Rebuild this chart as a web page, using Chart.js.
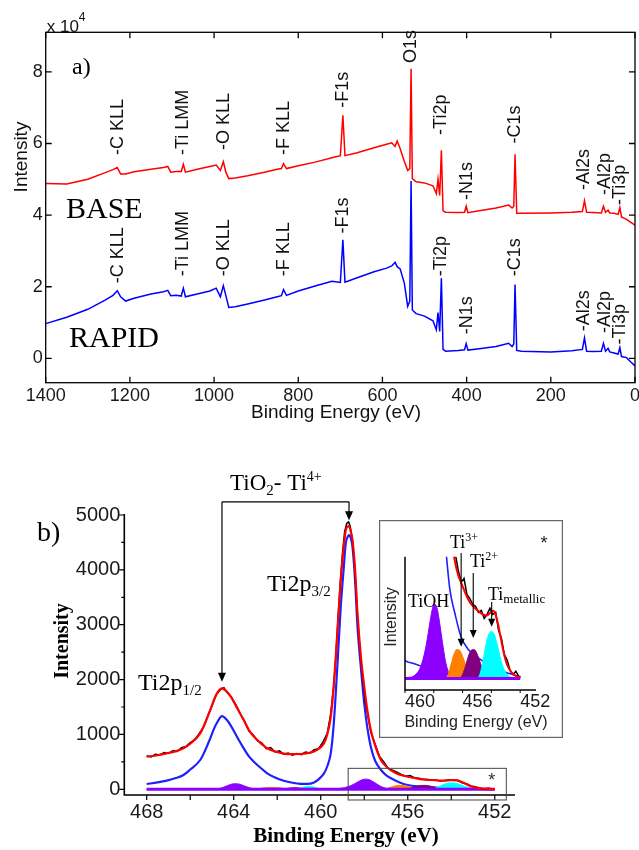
<!DOCTYPE html>
<html>
<head>
<meta charset="utf-8">
<script src="https://cdn.jsdelivr.net/npm/chart.js@4.4.1/dist/chart.umd.min.js"></script>
<style>
	html, body { margin: 0; padding: 0; background: #fff; }
	#wrap { position: relative; width: 639px; height: 850px; overflow: hidden; }
	canvas { position: absolute; }
	#survey { left: 0; top: 0; }
	#ti2p { left: 0; top: 430px; }
	#inset { left: 379px; top: 520px; }
</style>
</head>
<body>
<div id="wrap">
	<canvas id="survey" width="639" height="430"></canvas>
	<canvas id="ti2p" width="639" height="420"></canvas>
	<canvas id="inset" width="184" height="218"></canvas>
</div>
<script>
// a) survey spectra, intensity in units of 10^4
var surveyEnergy = [1400, 1350, 1300, 1260, 1240, 1230, 1222, 1210, 1190, 1150, 1120, 1110, 1103, 1090, 1078, 1073, 1068, 1040, 1010, 995,
	985, 978, 972, 965, 950, 920, 880, 850, 840, 835, 828, 800, 760, 720, 700, 694, 689, 660, 620, 590,
	578, 570, 565, 558, 548, 540, 535, 532, 529, 520, 500, 480, 472, 468, 464, 460, 456, 450, 420, 405,
	401, 397, 370, 330, 300, 292, 288, 285, 281, 270, 200, 150, 125, 120, 115, 100, 80, 75, 70, 64,
	60, 50, 40, 36, 32, 20, 10, 0];
var baseCounts = [4.88, 4.87, 5.00, 5.18, 5.27, 5.33, 5.15, 5.15, 5.21, 5.28, 5.33, 5.36, 5.20, 5.22, 5.22, 5.42, 5.20, 5.28, 5.36, 5.40,
	5.25, 5.49, 5.20, 5.02, 5.04, 5.10, 5.20, 5.28, 5.30, 5.44, 5.30, 5.38, 5.48, 5.60, 5.66, 6.79, 5.66, 5.74, 5.88, 5.98,
	6.02, 5.92, 6.07, 5.86, 5.50, 5.25, 5.30, 8.09, 5.02, 4.93, 4.90, 4.82, 4.60, 5.00, 4.55, 5.81, 4.12, 4.08, 4.07, 4.08,
	4.25, 4.07, 4.12, 4.20, 4.28, 4.20, 4.25, 5.70, 4.05, 4.05, 4.06, 4.08, 4.10, 4.40, 4.08, 4.07, 4.06, 4.25, 4.08, 4.14,
	4.06, 4.05, 4.02, 4.21, 3.95, 3.88, 3.80, 3.72];
var rapidCounts = [0.97, 1.15, 1.37, 1.62, 1.76, 1.89, 1.72, 1.60, 1.68, 1.80, 1.86, 1.90, 1.75, 1.76, 1.74, 1.96, 1.72, 1.80, 1.88, 1.96,
	1.72, 2.03, 1.75, 1.42, 1.44, 1.52, 1.63, 1.72, 1.75, 1.92, 1.76, 1.88, 2.02, 2.15, 2.12, 3.31, 2.13, 2.25, 2.42, 2.52,
	2.58, 2.68, 2.56, 2.50, 2.10, 1.45, 1.60, 4.95, 1.35, 1.25, 1.18, 1.05, 0.80, 1.28, 0.75, 2.24, 0.25, 0.20, 0.22, 0.24,
	0.41, 0.23, 0.27, 0.33, 0.42, 0.33, 0.40, 2.06, 0.22, 0.20, 0.18, 0.21, 0.25, 0.57, 0.20, 0.19, 0.20, 0.42, 0.20, 0.28,
	0.18, 0.15, 0.12, 0.30, 0.05, 0.02, -0.10, -0.21];
var surveyXTicks = [0, 200, 400, 600, 800, 1000, 1200, 1400];
var surveyYTicks = [0, 2, 4, 6, 8];

// peak labels: energy and where the label starts (same units as the curves)
var peakNames = ['-C KLL', '-Ti LMM', '-O KLL', '-F KLL', '-F1s', 'O1s', '-Ti2p', '-N1s', '-C1s', '-Al2s', '-Al2p', '-Ti3p'];
var peakEnergy = [1228, 1073, 976, 834, 694, 532, 461, 400, 285, 121, 72, 36];
var baseLabelAt = [5.68, 5.68, 5.82, 5.68, 7.0, 8.25, 6.24, 4.42, 6.0, 4.70, 4.56, 4.28];
var rapidLabelAt = [2.10, 2.29, 2.29, 2.29, 3.49, null, 2.29, 0.67, 2.29, 0.76, 0.71, 0.39];

// b) Ti2p high resolution, counts
var fitEnergy = [468.0, 467.5, 467.08, 466.7, 466.31, 466.0, 465.54, 465.3, 465.08, 464.9, 464.77, 464.54, 464.31, 464.15, 464.0, 463.8,
	463.54, 463.3, 463.0, 462.7, 462.46, 462.1, 461.7, 461.3, 460.93, 460.6, 460.31, 460.05, 459.85, 459.7, 459.54, 459.42, 459.31,
	459.2, 459.08, 458.95, 458.85, 458.75, 458.7, 458.62, 458.54, 458.42, 458.31, 458.15, 458.0, 457.85, 457.7, 457.5, 457.23, 457.0,
	456.77, 456.4, 456.0, 455.5, 454.93, 454.6, 454.31, 454.05, 453.85, 453.6, 453.39, 453.15, 452.93, 452.6, 452.3, 452.0];
var fitCounts = [594, 620, 656, 690, 747, 830, 1020, 1220, 1444, 1640, 1749, 1840, 1778, 1700, 1596, 1450,
	1262, 1080, 929, 820, 747, 690, 650, 640, 643, 660, 690, 750, 840, 1000, 1322, 1800, 2415,
	3100, 3812, 4400, 4723, 4790, 4796, 4700, 4541, 4000, 3206, 2400, 1869, 1420, 1080, 800, 530, 420,
	345, 270, 230, 190, 169, 160, 157, 165, 169, 145, 109, 65, 36, 15, 6, 2];
var ti4Counts = [96, 125, 157, 200, 260, 360, 534, 720, 929, 1110, 1213, 1335, 1262, 1170, 1067, 920,
	747, 600, 474, 370, 291, 215, 157, 120, 100, 98, 125, 200, 291, 420, 656, 1100, 1749,
	2500, 3326, 4000, 4481, 4610, 4632, 4580, 4419, 3800, 2962, 2200, 1566, 1100, 776, 520, 352, 260,
	200, 130, 78, 50, 35, 28, 22, 18, 16, 13, 10, 8, 7, 5, 4, 3];

var dataEnergy = [468.0, 467.8, 467.6, 467.4, 467.2, 467.0, 466.8, 466.6, 466.4, 466.2, 466.0, 465.8, 465.6, 465.4, 465.2, 465.0,
	464.8, 464.6, 464.45, 464.3, 464.1, 463.9, 463.7, 463.5, 463.3, 463.1, 462.9, 462.7, 462.5, 462.3, 462.1,
	461.9, 461.7, 461.5, 461.3, 461.1, 460.9, 460.7, 460.5, 460.3, 460.1, 459.9, 459.7, 459.55, 459.4, 459.3, 459.2, 459.1, 459.0,
	458.9, 458.8, 458.72, 458.65, 458.55, 458.45, 458.35, 458.25, 458.15, 458.05, 457.95, 457.85, 457.7, 457.5, 457.3, 457.1,
	456.9, 456.7, 456.5, 456.3, 456.1, 455.9, 455.7, 455.5, 455.3, 455.1, 454.9, 454.7, 454.5, 454.3, 454.1,
	453.9, 453.7, 453.5, 453.3, 453.1, 452.9, 452.7, 452.5, 452.3, 452.1];
var dataCounts = [610, 590, 640, 625, 670, 655, 700, 690, 760, 780, 850, 900, 1010, 1130, 1330, 1520,
	1730, 1820, 1850, 1760, 1680, 1540, 1380, 1240, 1060, 990, 880, 840, 740, 760, 680,
	700, 640, 660, 620, 650, 630, 680, 660, 720, 740, 860, 1020, 1350, 1900, 2450, 3150, 3780, 4300,
	4700, 4850, 4874, 4800, 4560, 4100, 3400, 2800, 2350, 1950, 1600, 1380, 1050, 820, 600, 500,
	380, 350, 310, 270, 240, 250, 210, 200, 185, 180, 165, 170, 150, 160, 175,
	160, 165, 120, 100, 60, 45, 20, 10, 18, 5];

var tiohEnergy = [468, 465.0, 464.6, 464.3, 464.0, 463.8, 463.5, 463.2, 462.8, 459.6, 459.2, 458.9, 458.6, 458.4, 458.2, 458.05, 457.92,
	457.75, 457.6, 457.4, 457.2, 457.0, 456.8, 456.5, 452];
var tiohCounts = [0, 0, 20, 65, 100, 98, 60, 20, 0, 3, 12, 30, 70, 110, 155, 180, 185, 172, 140, 90, 45, 18, 6, 0, 0];
var ti3Energy = [468, 463.2, 462.8, 462.4, 462.0, 461.6, 461.2, 457.3, 457.0, 456.8, 456.6, 456.4, 456.2, 456.0, 455.8, 455.6, 455.3, 455.0, 452];
var ti3Counts = [0, 0, 15, 35, 32, 12, 0, 0, 10, 35, 60, 72, 70, 55, 35, 18, 6, 0, 0];
var ti2Energy = [468, 462.0, 461.6, 461.2, 460.8, 460.4, 456.2, 456.0, 455.8, 455.6, 455.4, 455.2, 455.0, 454.8, 454.6, 454.4, 454.1, 453.8, 452];
var ti2Counts = [0, 0, 15, 30, 18, 0, 0, 10, 30, 55, 70, 72, 62, 42, 22, 10, 2, 0, 0];
var timetEnergy = [468, 461.4, 461.0, 460.6, 460.3, 460.05, 459.9, 455.0, 454.8, 454.6, 454.4, 454.2, 454.0, 453.8, 453.6, 453.4, 453.2,
	453.0, 452.8, 452.5, 452];
var timetCounts = [0, 0, 20, 50, 40, 8, 0, 0, 10, 40, 80, 108, 117, 110, 85, 55, 30, 15, 6, 2, 0];
var baselineEnergy = [468, 452];
var baselineCounts = [0, 0];

// inset background curve, two visible pieces
var insetBlueLeftEnergy = [460.1, 459.8, 459.4, 459.0, 458.73];
var insetBlueLeftCounts = [46, 41, 37, 32, 29];
var insetBlueRightEnergy = [457.15, 456.88, 456.53, 456.11, 455.6, 455.02, 454.1, 453.17, 451.96];
var insetBlueRightCounts = [316, 221, 162, 104, 72, 54, 33, 17, 4];

var ti2pXTicks = [452, 456, 460, 464, 468];
var ti2pXMinor = [452, 454, 456, 458, 460, 462, 464, 466, 468];
var ti2pYTicks = [0, 1000, 2000, 3000, 4000, 5000];
var ti2pYMinor = [500, 1500, 2500, 3500, 4500];
var insetXTicks = [452, 456, 460];
var insetXMinor = [452, 454, 456, 458, 460];

// arrows: Ti4+ doublet bracket and the inset species
var ti4ArrowEnergy = [464.54, 458.7];
var ti4ArrowTip = [1960, 4905];
var ti4BracketTop = 5240;
var speciesArrowEnergy = [456.1, 455.26, 453.98];
var speciesArrowFrom = [313, 263, 191];
var speciesArrowTip = [79, 101, 129];

var SANS = '"Liberation Sans", Arial, sans-serif';
var SERIF = '"Liberation Serif", "Times New Roman", serif';

function pts(xs, ys) {
	return xs.map(function(x, i) { return { x: x, y: ys[i] }; });
}

function fixedTicks(list) {
	return function(scale) {
		scale.ticks = list.map(function(v) { return { value: v }; });
	};
}

function fixWidth(w) {
	return function(scale) {
		scale.width = w;
		scale.paddingTop = scale.paddingBottom = scale.paddingLeft = scale.paddingRight = 0;
	};
}

function fixHeight(h) {
	return function(scale) {
		scale.height = h;
		scale.paddingTop = scale.paddingBottom = scale.paddingLeft = scale.paddingRight = 0;
	};
}

function vertText(ctx, text, x, y, align) {
	ctx.save();
	ctx.translate(x, y);
	ctx.rotate(-Math.PI / 2);
	ctx.textAlign = align || 'left';
	ctx.textBaseline = 'middle';
	ctx.fillText(text, 0, 0);
	ctx.restore();
}

// parts: [text, size, dy]
function richText(ctx, x, y, parts, family) {
	ctx.textAlign = 'left';
	ctx.textBaseline = 'alphabetic';
	parts.forEach(function(p) {
		ctx.font = p[1] + 'px ' + (family || SERIF);
		ctx.fillText(p[0], x, y + (p[2] || 0));
		x += ctx.measureText(p[0]).width;
	});
}

function arrowDown(ctx, x, y1, y2, head, half) {
	ctx.beginPath();
	ctx.moveTo(x, y1);
	ctx.lineTo(x, y2 - head + 1);
	ctx.stroke();
	ctx.beginPath();
	ctx.moveTo(x, y2);
	ctx.lineTo(x - half, y2 - head);
	ctx.lineTo(x + half, y2 - head);
	ctx.closePath();
	ctx.fill();
}

function lineSet(data, color, width, order, smooth) {
	return {
		data: data,
		borderColor: color,
		borderWidth: width,
		pointRadius: 0,
		fill: false,
		order: order,
		cubicInterpolationMode: smooth ? 'monotone' : 'default',
		tension: 0
	};
}

function fillSet(data, color, order) {
	return {
		data: data,
		borderColor: color,
		backgroundColor: color,
		borderWidth: 1,
		pointRadius: 0,
		fill: 'origin',
		order: order,
		cubicInterpolationMode: 'monotone'
	};
}

var surveyDecor = {
	id: 'surveyDecor',
	afterDraw: function(chart) {
		var ctx = chart.ctx, a = chart.chartArea;
		var xs = chart.scales.x, ys = chart.scales.y;
		ctx.save();
		ctx.strokeStyle = '#000';
		ctx.lineWidth = 1.3;
		ctx.strokeRect(a.left, a.top, a.right - a.left, a.bottom - a.top);
		ctx.beginPath();
		surveyXTicks.forEach(function(v) {
			var px = xs.getPixelForValue(v);
			ctx.moveTo(px, a.bottom); ctx.lineTo(px, a.bottom - 6);
			ctx.moveTo(px, a.top); ctx.lineTo(px, a.top + 6);
		});
		surveyYTicks.forEach(function(v) {
			var py = ys.getPixelForValue(v);
			ctx.moveTo(a.left, py); ctx.lineTo(a.left + 6, py);
			ctx.moveTo(a.right, py); ctx.lineTo(a.right - 6, py);
		});
		ctx.stroke();

		ctx.fillStyle = '#111';
		ctx.font = '18px ' + SANS;
		peakNames.forEach(function(name, i) {
			var px = xs.getPixelForValue(peakEnergy[i]);
			vertText(ctx, name, px, ys.getPixelForValue(baseLabelAt[i]));
			if (rapidLabelAt[i] !== null) {
				vertText(ctx, name, px, ys.getPixelForValue(rapidLabelAt[i]));
			}
		});

		richText(ctx, a.left + 1, a.top, [['x 10', 17], ['4', 12, -11]], SANS);

		ctx.font = '19px ' + SANS;
		vertText(ctx, 'Intensity', 22, 157, 'center');
		ctx.textAlign = 'center';
		ctx.textBaseline = 'middle';
		ctx.fillText('Binding Energy (eV)', 336, 413);

		ctx.fillStyle = '#000';
		richText(ctx, 72, 74, [['a)', 24]]);
		richText(ctx, 66, 218, [['BASE', 30]]);
		richText(ctx, 69, 347, [['RAPID', 30]]);
		ctx.restore();
	}
};

var ti2pDecor = {
	id: 'ti2pDecor',
	afterDraw: function(chart) {
		var ctx = chart.ctx, a = chart.chartArea;
		var xs = chart.scales.x, ys = chart.scales.y;
		ctx.save();
		ctx.strokeStyle = '#000';
		ctx.fillStyle = '#000';
		ctx.lineWidth = 1.6;
		ctx.beginPath();
		ctx.moveTo(a.left, ys.getPixelForValue(5000) - 1);
		ctx.lineTo(a.left, a.bottom);
		ctx.lineTo(a.right, a.bottom);
		ctx.stroke();

		ctx.lineWidth = 1.2;
		ctx.beginPath();
		ti2pYTicks.forEach(function(v) {
			var py = ys.getPixelForValue(v);
			ctx.moveTo(a.left - 5, py); ctx.lineTo(a.left, py);
		});
		ti2pYMinor.forEach(function(v) {
			var py = ys.getPixelForValue(v);
			ctx.moveTo(a.left - 3, py); ctx.lineTo(a.left, py);
		});
		ti2pXMinor.forEach(function(v) {
			var px = xs.getPixelForValue(v);
			ctx.moveTo(px, a.bottom); ctx.lineTo(px, a.bottom + 5);
		});
		ctx.stroke();

		// Ti4+ doublet bracket
		var xl = xs.getPixelForValue(ti4ArrowEnergy[0]);
		var xr = xs.getPixelForValue(ti4ArrowEnergy[1]);
		var yt = ys.getPixelForValue(ti4BracketTop);
		ctx.lineWidth = 1.2;
		ctx.beginPath();
		ctx.moveTo(xl, yt); ctx.lineTo(xr, yt);
		ctx.stroke();
		arrowDown(ctx, xl, yt, ys.getPixelForValue(ti4ArrowTip[0]), 9, 4);
		arrowDown(ctx, xr, yt, ys.getPixelForValue(ti4ArrowTip[1]), 9, 4);

		// zoom box of the inset
		var bx1 = xs.getPixelForValue(458.74), bx2 = xs.getPixelForValue(451.47);
		var by1 = ys.getPixelForValue(382), by2 = ys.getPixelForValue(-195);
		ctx.strokeStyle = '#444';
		ctx.lineWidth = 1;
		ctx.strokeRect(bx1, by1, bx2 - bx1, by2 - by1);
		ctx.fillStyle = '#333';
		ctx.font = '18px ' + SANS;
		ctx.textAlign = 'center';
		ctx.textBaseline = 'middle';
		ctx.fillText('*', xs.getPixelForValue(452.14), ys.getPixelForValue(150));

		ctx.fillStyle = '#000';
		richText(ctx, 37, 111, [['b)', 28]]);
		richText(ctx, 230, 60, [['TiO', 23], ['2', 15, 5], ['- Ti', 23], ['4+', 14, -9]]);
		richText(ctx, 267, 161, [['Ti2p', 24], ['3/2', 15, 5]]);
		richText(ctx, 138, 260, [['Ti2p', 24], ['1/2', 15, 5]]);

		ctx.font = 'bold 20px ' + SERIF;
		vertText(ctx, 'Intensity', 63, 211, 'center');
		ctx.font = 'bold 21px ' + SERIF;
		ctx.textAlign = 'center';
		ctx.textBaseline = 'middle';
		ctx.fillText('Binding Energy (eV)', 346, 407);
		ctx.restore();
	}
};

var insetDecor = {
	id: 'insetDecor',
	afterDraw: function(chart) {
		var ctx = chart.ctx, a = chart.chartArea;
		var xs = chart.scales.x, ys = chart.scales.y;
		ctx.save();
		ctx.strokeStyle = '#666';
		ctx.lineWidth = 1.2;
		ctx.strokeRect(0.6, 0.6, chart.width - 1.2, chart.height - 1.2);

		ctx.strokeStyle = '#000';
		ctx.lineWidth = 1.5;
		ctx.beginPath();
		ctx.moveTo(a.left, a.top);
		ctx.lineTo(a.left, a.bottom);
		ctx.lineTo(a.right, a.bottom);
		ctx.stroke();
		ctx.lineWidth = 1;
		ctx.beginPath();
		insetXMinor.forEach(function(v) {
			var px = xs.getPixelForValue(v);
			ctx.moveTo(px, a.bottom); ctx.lineTo(px, a.bottom + 3);
		});
		ctx.stroke();

		ctx.fillStyle = '#222';
		ctx.font = '16px ' + SANS;
		vertText(ctx, 'Intensity', 13, 97, 'center');
		ctx.textAlign = 'center';
		ctx.textBaseline = 'middle';
		ctx.fillText('Binding Energy (eV)', 97, 203);
		ctx.font = '18px ' + SANS;
		ctx.fillText('*', 165, 24);

		ctx.fillStyle = '#000';
		ctx.strokeStyle = '#000';
		ctx.lineWidth = 1.1;
		speciesArrowEnergy.forEach(function(e, i) {
			arrowDown(ctx, xs.getPixelForValue(e), ys.getPixelForValue(speciesArrowFrom[i]), ys.getPixelForValue(speciesArrowTip[i]), 8, 3.5);
		});
		richText(ctx, 29, 87, [['TiOH', 18]]);
		richText(ctx, 71, 28, [['Ti', 18], ['3+', 12, -7]]);
		richText(ctx, 91, 47, [['Ti', 18], ['2+', 12, -7]]);
		richText(ctx, 109, 80, [['Ti', 18], ['metallic', 13, 3]]);
		ctx.restore();
	}
};

function axisTicks(size, pad) {
	return {
		font: { family: SANS, size: size },
		color: '#1a1a1a',
		padding: pad,
		autoSkip: false,
		maxRotation: 0,
		callback: function(v) { return String(v); }
	};
}

new Chart(document.getElementById('survey'), {
	type: 'line',
	data: {
		datasets: [
			lineSet(pts(surveyEnergy, baseCounts), '#ff0000', 1.5, 0, false),
			lineSet(pts(surveyEnergy, rapidCounts), '#0000ff', 1.5, 1, false)
		]
	},
	options: {
		responsive: false,
		animation: false,
		layout: { padding: { top: 32.3, right: 4, left: 0, bottom: 0 } },
		plugins: { legend: { display: false }, tooltip: { enabled: false } },
		scales: {
			x: {
				type: 'linear', reverse: true, min: 0, max: 1400,
				grid: { display: false, drawTicks: false }, border: { display: false },
				ticks: axisTicks(18, 3),
				afterBuildTicks: fixedTicks(surveyXTicks),
				afterFit: fixHeight(47.3)
			},
			y: {
				type: 'linear', min: -0.68, max: 9.106,
				grid: { display: false, drawTicks: false }, border: { display: false },
				ticks: axisTicks(18, 3),
				afterBuildTicks: fixedTicks(surveyYTicks),
				afterFit: fixWidth(45.7)
			}
		}
	},
	plugins: [surveyDecor]
});

new Chart(document.getElementById('ti2p'), {
	type: 'line',
	data: {
		datasets: [
			lineSet(pts(fitEnergy, fitCounts), '#ff0000', 2.2, 0, true),
			lineSet(pts(dataEnergy, dataCounts), '#000000', 1.5, 1, false),
			lineSet(pts(baselineEnergy, baselineCounts), '#8b00ff', 3, 2, false),
			fillSet(pts(timetEnergy, timetCounts), '#00ffff', 3),
			fillSet(pts(ti2Energy, ti2Counts), '#800080', 4),
			fillSet(pts(ti3Energy, ti3Counts), '#ff8000', 5),
			fillSet(pts(tiohEnergy, tiohCounts), '#8b00ff', 6),
			lineSet(pts(fitEnergy, ti4Counts), '#1f1fff', 2.2, 7, true)
		]
	},
	options: {
		responsive: false,
		animation: false,
		layout: { padding: { top: 85, right: 124, left: 0, bottom: 0 } },
		plugins: { legend: { display: false }, tooltip: { enabled: false } },
		scales: {
			x: {
				type: 'linear', reverse: true, min: 451.07, max: 469.03,
				grid: { display: false, drawTicks: false }, border: { display: false },
				ticks: axisTicks(20, 5),
				afterBuildTicks: fixedTicks(ti2pXTicks),
				afterFit: fixHeight(55)
			},
			y: {
				type: 'linear', min: -104, max: 5000,
				grid: { display: false, drawTicks: false }, border: { display: false },
				ticks: axisTicks(20, 4),
				afterBuildTicks: fixedTicks(ti2pYTicks),
				afterFit: fixWidth(124.3)
			}
		}
	},
	plugins: [ti2pDecor]
});

new Chart(document.getElementById('inset'), {
	type: 'line',
	data: {
		datasets: [
			lineSet(pts(fitEnergy, fitCounts), '#ff0000', 2, 0, true),
			lineSet(pts(dataEnergy, dataCounts), '#000000', 1.5, 1, false),
			lineSet(pts(baselineEnergy, baselineCounts), '#8b00ff', 3, 2, false),
			fillSet(pts(timetEnergy, timetCounts), '#00ffff', 3),
			fillSet(pts(ti2Energy, ti2Counts), '#800080', 4),
			fillSet(pts(ti3Energy, ti3Counts), '#ff8000', 5),
			fillSet(pts(tiohEnergy, tiohCounts), '#8b00ff', 6),
			lineSet(pts(insetBlueLeftEnergy, insetBlueLeftCounts), '#1f1fff', 1.6, 7, false),
			lineSet(pts(insetBlueRightEnergy, insetBlueRightCounts), '#1f1fff', 1.6, 8, true)
		]
	},
	options: {
		responsive: false,
		animation: false,
		layout: { padding: { top: 36.7, right: 27, left: 0, bottom: 0 } },
		plugins: { legend: { display: false }, tooltip: { enabled: false } },
		scales: {
			x: {
				type: 'linear', reverse: true, min: 450.9, max: 460,
				grid: { display: false, drawTicks: false }, border: { display: false },
				ticks: Object.assign(axisTicks(18, 1), { align: 'start' }),
				afterBuildTicks: fixedTicks(insetXTicks),
				afterFit: fixHeight(48)
			},
			y: {
				type: 'linear', min: -29, max: 304,
				grid: { display: false, drawTicks: false }, border: { display: false },
				ticks: { display: false },
				afterFit: fixWidth(26)
			}
		}
	},
	plugins: [insetDecor]
});
</script>
</body>
</html>
